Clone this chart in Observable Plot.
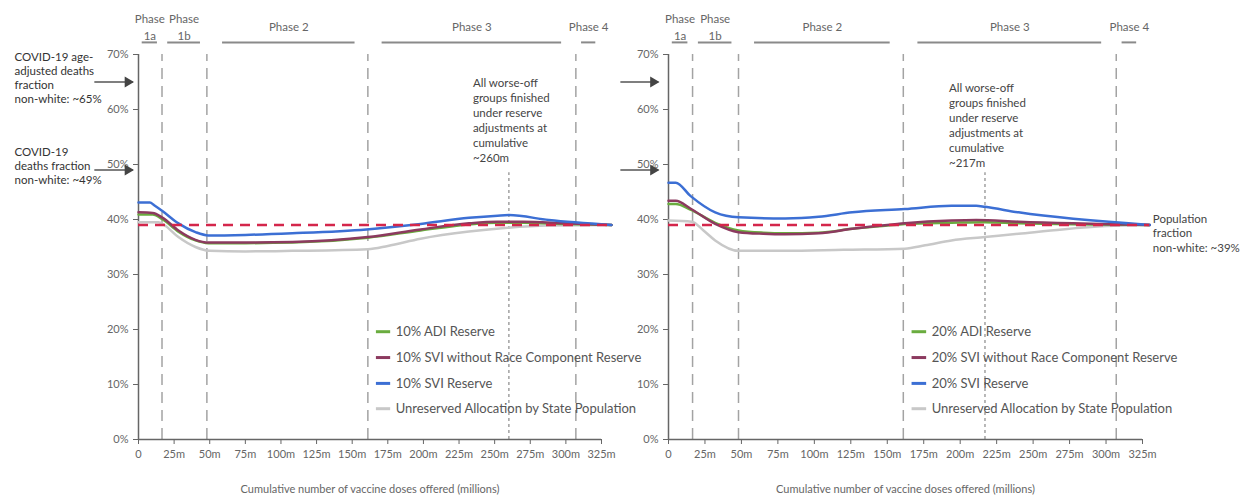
<!DOCTYPE html>
<html>
<head>
<meta charset="utf-8">
<script src="https://cdn.jsdelivr.net/npm/d3@7"></script>
<script src="https://cdn.jsdelivr.net/npm/@observablehq/plot@0.6"></script>
<style>
  body { margin: 0; background: #fff; }
  #wrap { display: flex; width: 1248px; height: 499px; overflow: hidden; }
</style>
</head>
<body>
<div id="wrap"></div>
<script>
// ---------- data ----------
const xTicks = [0, 25, 50, 75, 100, 125, 150, 175, 200, 225, 250, 275, 300, 325];
const yTicks = [0, 0.1, 0.2, 0.3, 0.4, 0.5, 0.6, 0.7];
const phaseBounds = [16.5, 48, 161, 307];
const phaseNames = ["Phase\n1a", "Phase\n1b", "Phase 2", "Phase 3", "Phase 4"];
const phaseStart = [2.6, 20.5, 59, 171, 311];
const phaseEnd = [13.3, 43.5, 152, 297, 321];
const seriesNames = ["ADI Reserve", "SVI without Race Component Reserve", "SVI Reserve", "Unreserved Allocation by State Population"];
const seriesColors = ["#6aac3f", "#8c3a5f", "#3c6fd4", "#c8c8c8"];
const popFraction = 0.39;
const deathValues = [0.65, 0.49];
const deathLabels = ["COVID-19 age-\nadjusted deaths\nfraction\nnon-white: ~65%", "COVID-19\ndeaths fraction\nnon-white: ~49%"];
const popLabel = "Population\nfraction\nnon-white: ~39%";
const xLabel = "Cumulative number of vaccine doses offered (millions)";

// cumulative doses (m), % non-white — 10% reserve panel
const adi10   = [[0,40.9],[10,40.9],[17,40.0],[28,37.8],[40,36.2],[49,35.7],[75,35.7],[108,35.8],[161,36.7],[198,38.0],[232,39.1],[252,39.4],[270,39.4],[300,39.2],[332,39.0]];
const svinr10 = [[0,41.3],[10,41.2],[17,40.3],[28,38.0],[40,36.3],[49,35.8],[75,35.8],[108,35.9],[161,36.8],[198,38.2],[232,39.3],[252,39.6],[270,39.6],[300,39.3],[332,39.0]];
const svi10   = [[0,43.1],[8,43.1],[11,42.6],[17,41.5],[28,39.3],[40,37.7],[49,37.1],[75,37.2],[108,37.5],[160,38.2],[198,39.2],[232,40.3],[252,40.7],[260,40.8],[288,39.9],[332,39.0]];
const unres10 = [[0,39.5],[14,39.5],[18,39.0],[28,36.8],[40,35.0],[50,34.3],[75,34.2],[108,34.3],[161,34.6],[175,35.2],[198,36.5],[232,37.8],[259,38.5],[288,38.9],[332,39.0]];
// 20% reserve panel
const adi20   = [[0,42.8],[5,42.8],[15,41.8],[32,39.4],[48,38.0],[65,37.6],[80,37.5],[103,37.6],[126,38.3],[150,38.9],[162,39.2],[194,39.4],[217,39.5],[240,39.3],[330,39.0]];
const svinr20 = [[0,43.4],[5,43.4],[15,42.0],[32,39.2],[48,37.7],[65,37.4],[80,37.3],[103,37.5],[126,38.3],[150,39.0],[162,39.3],[194,39.8],[211,39.9],[240,39.6],[330,39.0]];
const svi20   = [[0,46.7],[5,46.7],[15,44.3],[32,41.3],[48,40.4],[80,40.2],[103,40.5],[126,41.3],[162,41.9],[194,42.5],[211,42.5],[217,42.3],[240,41.3],[330,39.0]];
const unres20 = [[0,39.8],[16,39.6],[24,38.0],[32,36.2],[48,34.3],[80,34.3],[120,34.5],[162,34.7],[176,35.3],[194,36.2],[217,36.8],[240,37.4],[270,38.2],[300,38.8],[330,39.0]];

const legendY = [0.196, 0.149, 0.102, 0.056];

// ---------- drawing ----------
const FONT = "Lato, 'Open Sans', sans-serif";
const toPts = arr => arr.map(([x, v]) => ({x, y: v / 100}));
const phases = phaseNames.map((name, i) => ({name, x1: phaseStart[i], x2: phaseEnd[i], mid: (phaseStart[i] + phaseEnd[i]) / 2}));

function panel(cfg) {
  const marks = [];
  // phase boundaries
  marks.push(Plot.ruleX(phaseBounds, {y1: 0, y2: 0.7, stroke: "#a3a3a3", strokeWidth: 1.5, strokeDasharray: "11,7"}));
  // finish line
  marks.push(Plot.ruleX([cfg.finish], {y1: 0, y2: 0.485, stroke: "#8a8a8a", strokeWidth: 1.2, strokeDasharray: "3,3"}));
  // phase header
  marks.push(Plot.ruleY(phases, {x1: "x1", x2: "x2", y: 0.722, stroke: "#8a8a8a", strokeWidth: 2}));
  marks.push(Plot.text(phases, {x: "mid", y: 0.752, text: "name", lineAnchor: "middle", lineHeight: 1.45, fontSize: 11.5, fill: "#666"}));
  // axes
  marks.push(Plot.ruleY([0], {x1: 0, x2: 325, stroke: "#666", strokeWidth: 1.5}));
  marks.push(Plot.ruleX([0], {y1: 0, y2: 0.7, stroke: "#666", strokeWidth: 1.5}));
  marks.push(Plot.axisY(yTicks, {tickSize: 5, tickPadding: 5, tickFormat: d => Math.round(d * 100) + "%", label: null, fontSize: 11, stroke: "#666", fill: "#666"}));
  marks.push(Plot.axisX(xTicks, {tickSize: 5, tickPadding: 6, tickFormat: d => d === 0 ? "0" : d + "m", label: null, fontSize: 11, stroke: "#666", fill: "#666"}));
  marks.push(Plot.text([xLabel], {frameAnchor: "bottom", dy: 53, text: d => d, fontSize: 11, fill: "#666"}));
  // series
  const order = [3, 0, 1, 2];
  for (const i of order) {
    marks.push(Plot.line(toPts(cfg.series[i]), {x: "x", y: "y", stroke: seriesColors[i], strokeWidth: 2.5, curve: "monotone-x"}));
  }
  marks.push(Plot.ruleY([popFraction], {x1: 0, x2: cfg.lineEnd, stroke: "#d4264b", strokeWidth: 2.5, strokeDasharray: "10,7"}));
  // legend
  seriesNames.forEach((name, i) => {
    const label = i < 3 ? cfg.prefix + " " + name : name;
    marks.push(Plot.ruleY([legendY[i]], {x1: 167, x2: 177, stroke: seriesColors[i], strokeWidth: 3}));
    marks.push(Plot.text([label], {x: 180.5, y: legendY[i], text: d => d, textAnchor: "start", fontSize: 13, fill: "#555"}));
  });
  // finish annotation
  marks.push(Plot.text([cfg.finish], {x: d => d, y: cfg.annY, text: () => cfg.annText, textAnchor: "start", lineAnchor: "middle", dx: -36, lineHeight: 1.3, fontSize: 11.5, fill: "#444"}));
  // deaths arrows
  const annots = deathValues.map((v, i) => ({v, label: deathLabels[i]}));
  marks.push(Plot.link(annots, {x1: cfg.arrowFrom, x2: cfg.arrowTo, y1: "v", y2: "v", stroke: "#555", strokeWidth: 1.5}));
  marks.push(Plot.dot(annots, {x: cfg.arrowTo, y: "v", symbol: "triangle", rotate: 90, r: 4, fill: "#444", stroke: "none", dx: -5}));
  if (cfg.showDeathLabels) {
    marks.push(Plot.text(annots, {x: -87, y: "v", text: "label", textAnchor: "start", lineAnchor: "middle", dy: -4.5, lineHeight: 1.22, fontSize: 11.5, fill: "#333"}));
  }
  if (cfg.showPopLabel) {
    marks.push(Plot.text([popFraction], {x: cfg.lineEnd, y: d => d, text: () => popLabel, textAnchor: "start", lineAnchor: "middle", dx: 3, dy: 7.5, lineHeight: 1.27, fontSize: 11.5, fill: "#444"}));
  }
  return Plot.plot({
    width: cfg.width,
    height: 499,
    marginLeft: cfg.marginLeft,
    marginRight: cfg.marginRight,
    marginTop: 54,
    marginBottom: 60,
    x: {domain: [0, 325], axis: null},
    y: {domain: [0, 0.7], axis: null},
    style: {fontFamily: FONT, fontSize: "11px", background: "transparent", overflow: "visible", color: "#555"},
    marks
  });
}

const wrap = document.getElementById("wrap");
wrap.appendChild(panel({
  width: 624, marginLeft: 138, marginRight: 23,
  series: [adi10, svinr10, svi10, unres10], prefix: "10%",
  finish: 260, annY: 0.582, lineEnd: 332,
  annText: "All worse-off\ngroups finished\nunder reserve\nadjustments at\ncumulative\n~260m",
  arrowFrom: -31, arrowTo: -4, showDeathLabels: true, showPopLabel: false
}));
wrap.appendChild(panel({
  width: 624, marginLeft: 44, marginRight: 106,
  series: [adi20, svinr20, svi20, unres20], prefix: "20%",
  finish: 217, annY: 0.573, lineEnd: 330,
  annText: "All worse-off\ngroups finished\nunder reserve\nadjustments at\ncumulative\n~217m",
  arrowFrom: -33, arrowTo: -7, showDeathLabels: false, showPopLabel: true
}));
</script>
</body>
</html>
